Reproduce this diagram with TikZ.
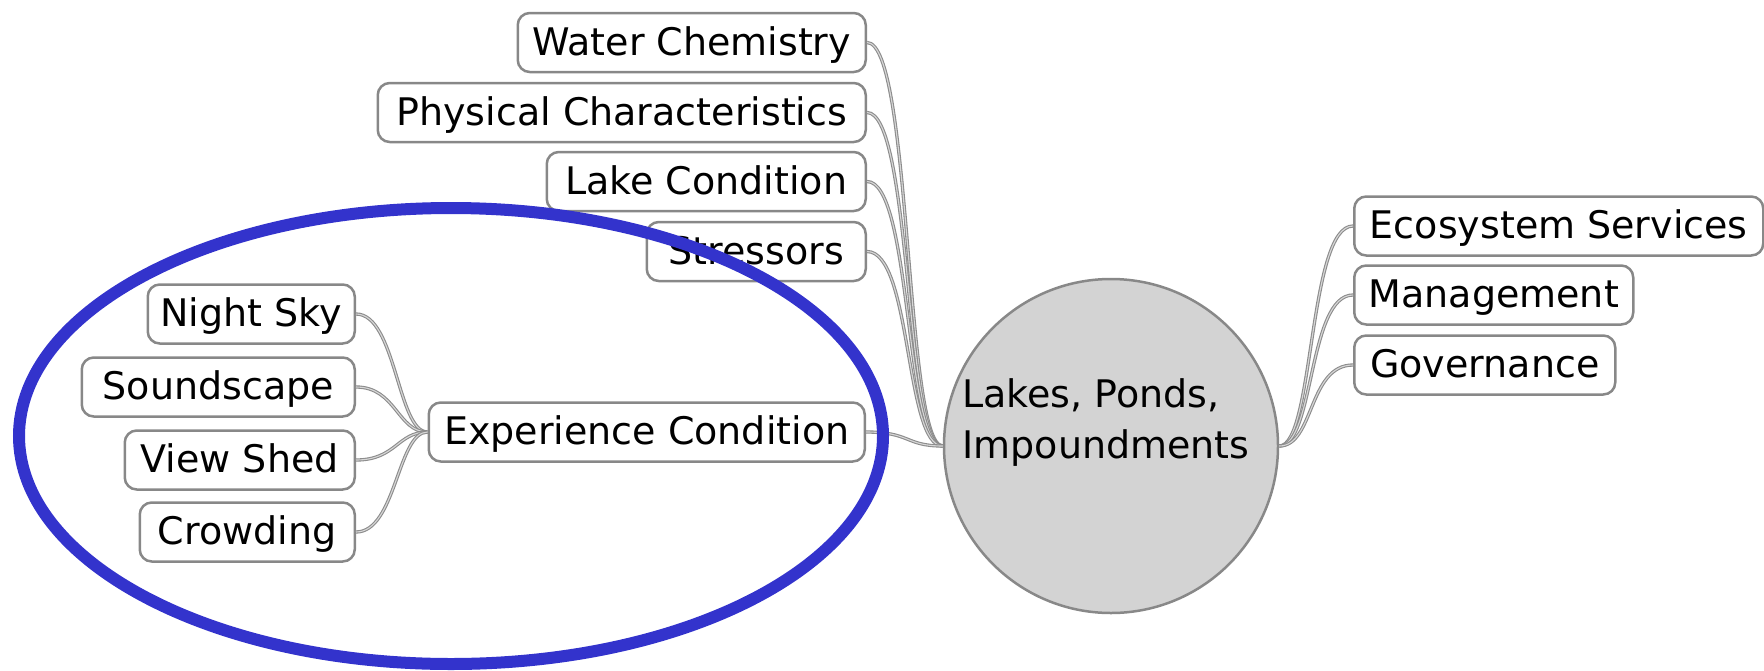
\documentclass[tikz,border=0pt]{standalone}
\usepackage{fontspec}
\setmainfont{DejaVu Sans}
\definecolor{boxgray}{RGB}{136,136,136}
\definecolor{hubfill}{RGB}{211,211,211}
\definecolor{linegray}{RGB}{140,140,140}
\definecolor{lineinner}{RGB}{215,215,215}
\definecolor{ringblue}{RGB}{51,51,204}
\begin{document}
\begin{tikzpicture}[x=1pt,y=-1pt,
  lbl/.style={font=\fontsize{38}{45}\selectfont},
  topic/.style={lbl, draw=boxgray, line width=2.5pt, rounded corners=12pt, fill=white,
    minimum height=59pt, inner sep=0pt, text height=28pt, text depth=3pt},
  hub/.style={circle, draw=boxgray, line width=2.5pt, fill=hubfill, minimum size=334pt, inner sep=0pt},
  hubtext/.style={align=left, inner sep=0pt, font=\fontsize{38}{51}\selectfont},
  conn/.style={draw=linegray, line width=1.1pt, double=lineinner, double distance=1.1pt},
  ring/.style={draw=ringblue, line width=12pt}
]
\useasboundingbox (0,0) rectangle (1764,670);

% hub
\node[hub] (hub) at (1111,446) {};
\node[hubtext] (hubt) at (1106,423) {Lakes, Ponds,\\Impoundments};

% left main topics
\node[topic, anchor=east, minimum width=348pt] (wc) at (867,42.5) {Water Chemistry};
\node[topic, anchor=east, minimum width=488pt] (pc) at (867,112.5) {Physical Characteristics};
\node[topic, anchor=east, minimum width=319pt] (lc) at (867,181.5) {Lake Condition};
\node[topic, anchor=east, minimum width=219pt] (st) at (867,251.5) {Stressors};
\node[topic, anchor=east, minimum width=436pt] (ec) at (866,432) {Experience Condition};

% sub topics of Experience Condition
\node[topic, anchor=east, minimum width=207pt] (ns) at (356,314) {Night Sky};
\node[topic, anchor=east, minimum width=273pt] (ss) at (356,387) {Soundscape};
\node[topic, anchor=east, minimum width=230pt] (vs) at (356,460) {View Shed};
\node[topic, anchor=east, minimum width=215pt] (cr) at (356,532) {Crowding};

% right topics
\node[topic, anchor=west, minimum width=409pt] (es) at (1353,226) {Ecosystem Services};
\node[topic, anchor=west, minimum width=279pt] (mg) at (1353,295) {Management};
\node[topic, anchor=west, minimum width=261pt] (gv) at (1353,365) {Governance};

% connectors: left main
\foreach \n in {wc,pc,lc,st,ec}
  \draw[conn] (\n.east) .. controls +(45,0) and +(-38,0) .. (hub.west);
% connectors: right
\foreach \n in {es,mg,gv}
  \draw[conn] (hub.east) .. controls +(35,0) and +(-45,0) .. (\n.west);
% connectors: sub topics
\foreach \n in {ns,ss,vs,cr}
  \draw[conn] (ec.west) .. controls +(-30,0) and +(40,0) .. (\n.east);

% highlight ring
\draw[ring] (451,436) ellipse [x radius=432pt, y radius=228pt];
\end{tikzpicture}
\end{document}
